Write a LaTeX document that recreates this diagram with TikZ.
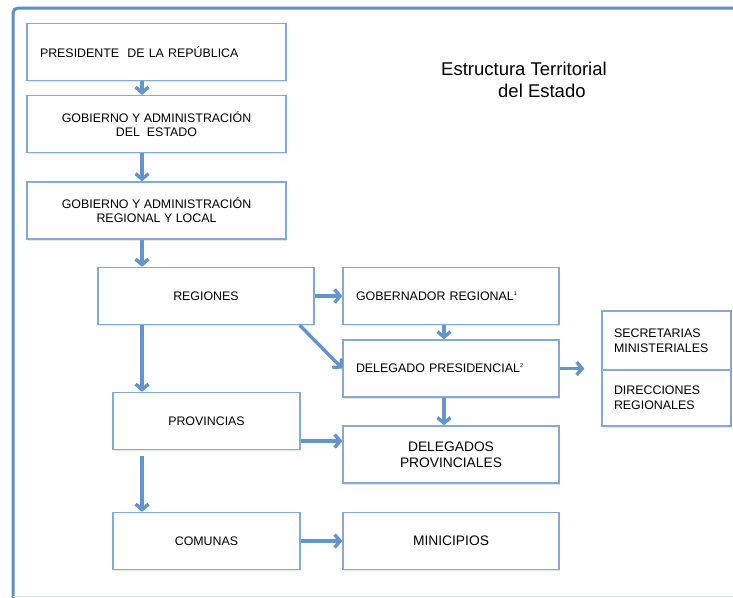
\documentclass[tikz,border=0pt]{standalone}
\usepackage{fontspec}
\setmainfont{Liberation Sans}
\usepackage{xcolor}
\usetikzlibrary{arrows.meta,shadows}
\definecolor{boxblue}{RGB}{132,170,216}
\definecolor{arrowblue}{RGB}{99,149,204}
\definecolor{frameblue}{RGB}{92,142,201}
\newcommand{\boxfont}{\fontsize{12.4}{14}\selectfont}
\newcommand{\bigfont}{\fontsize{13.8}{16.5}\selectfont}
\newcommand{\notemark}[1]{\raisebox{5pt}{\fontsize{5.5}{6}\selectfont #1}}

\begin{document}
\begin{tikzpicture}[x=1pt,y=-1pt,
    box/.style={draw=boxblue,line width=1.3pt,fill=white,rectangle,inner sep=0pt,
      minimum height=57pt,align=center,font=\boxfont,text=black,
      drop shadow={shadow xshift=1pt,shadow yshift=-1.5pt,opacity=0.2}},
    link/.style={draw=arrowblue,line width=3.4pt,-{Straight Barb[length=5.5pt,width=13pt]}}]
    \useasboundingbox (0,0) rectangle (733,597);

    \draw[frameblue,line width=3pt,rounded corners=5pt] (13,610) -- (13,8) -- (745,8);
    \draw[frameblue!20,line width=1pt] (13,596) -- (733,596);

    \node[anchor=base west,inner sep=0pt,font=\fontsize{18.5}{22}\selectfont] (title) at (441,75.5) {Estructura Territorial};
    \node[anchor=base west,inner sep=0pt,font=\fontsize{18.5}{22}\selectfont] (subtitle) at (498,97.5) {del Estado};

    \node[box,minimum width=259pt,text width=233pt,align=left] (pres) at (156.5,52) {PRESIDENTE\ \ DE LA REPÚBLICA};
    \node[box,minimum width=259pt] (gobest) at (156.5,124) {GOBIERNO Y ADMINISTRACIÓN\\DEL\ \ ESTADO};
    \node[box,minimum width=259pt] (gobreg) at (156.5,210.5) {GOBIERNO Y ADMINISTRACIÓN\\REGIONAL Y LOCAL};
    \node[box,minimum width=216pt] (reg) at (206,296) {REGIONES};
    \node[box,minimum width=216pt,text width=190pt,align=left] (gober) at (451,296) {GOBERNADOR REGIONAL\notemark{1}};
    \node[box,minimum width=216pt,text width=190pt,align=left] (delpres) at (451,368.5) {DELEGADO PRESIDENCIAL\notemark{2}};
    \node[box,minimum width=187pt] (prov) at (206.5,421) {PROVINCIAS};
    \node[box,minimum width=216pt,font=\bigfont] (delprov) at (451,454.5) {DELEGADOS\\PROVINCIALES};
    \node[box,minimum width=187pt] (com) at (206.5,541) {COMUNAS};
    \node[box,minimum width=216pt,font=\bigfont] (mun) at (451,541) {MINICIPIOS};
    \node[box,minimum width=129pt,minimum height=59pt,text width=105pt,align=left,font=\fontsize{12.4}{15}\selectfont] (sec) at (666.5,340.5) {SECRETARIAS\\MINISTERIALES};
    \node[box,minimum width=129pt,minimum height=56pt,text width=105pt,align=left,font=\fontsize{12.4}{15}\selectfont] (dir) at (666.5,398) {DIRECCIONES\\REGIONALES};
    \coordinate (secin) at ([xshift=-17pt]sec.south west);

    \draw[link] ([xshift=-14.5pt]pres.south) -- ([xshift=-14.5pt]gobest.north);
    \draw[link] ([xshift=-14.5pt]gobest.south) -- ([xshift=-14.5pt]gobreg.north);
    \draw[link] ([xshift=-14.5pt]gobreg.south) -- ([xshift=-14.5pt]gobreg.south |- reg.north);
    \draw[link] ([xshift=-64pt]reg.south) -- ([xshift=-64pt]reg.south |- prov.north);
    \draw[link] ([xshift=-64.5pt,yshift=-6pt]prov.south) -- ([xshift=-64.5pt]com.north);
    \draw[link] (reg.east) -- (gober.west);
    \draw[link] ([xshift=-15pt]reg.south east) -- (delpres.west);
    \draw[link] ([xshift=-7pt]gober.south) -- ([xshift=-7pt]delpres.north);
    \draw[link] ([xshift=-7pt]delpres.south) -- ([xshift=-7pt]delprov.north);
    \draw[link] ([yshift=-20pt]prov.east) -- ([yshift=-20pt]prov.east -| delprov.west);
    \draw[link] (delpres.east) -- (delpres.east -| secin);
    \draw[link] (com.east) -- (mun.west);
\end{tikzpicture}
\end{document}
